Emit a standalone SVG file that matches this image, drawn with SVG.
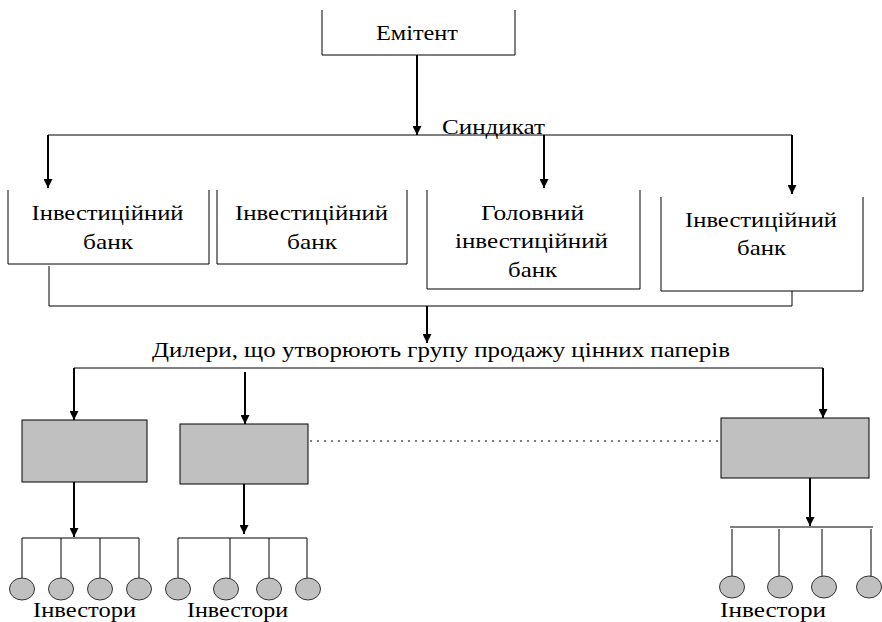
<svg xmlns="http://www.w3.org/2000/svg" width="882" height="622" viewBox="0 0 882 622">
<style>
text{font-family:'Liberation Serif','Times New Roman',serif;font-size:22px;fill:#000;text-anchor:middle}
.box{fill:#fff;stroke:#000;stroke-width:1}
.gbox{fill:#c0c0c0;stroke:#000;stroke-width:1}
.inv{fill:#c0c0c0;stroke:#333;stroke-width:1}
.ln{fill:none;stroke:#000;stroke-width:1}
.arr{fill:none;stroke:#000;stroke-width:2;marker-end:url(#ah)}
.dot{fill:none;stroke:#000;stroke-width:1.2;stroke-dasharray:2 5}
</style>
<defs>
<marker id="ah" viewBox="0 0 10 10" refX="10" refY="5" markerWidth="5" markerHeight="4.5" markerUnits="strokeWidth" orient="auto">
<path d="M0,0 L10,5 L0,10 z" fill="#000"/>
</marker>
</defs>
<rect width="882" height="622" fill="#fff"/>
<g id="connectors">
<line class="arr" x1="417" y1="55" x2="417" y2="135"/>
<line class="ln" x1="48" y1="135" x2="792" y2="135"/>
<line class="arr" x1="48" y1="135" x2="48" y2="188"/>
<line class="arr" x1="544" y1="135" x2="544" y2="188"/>
<line class="arr" x1="792" y1="135" x2="792" y2="194"/>
<polyline class="ln" points="49,266 49,306 792,306 792,291"/>
<line class="arr" x1="427" y1="306" x2="427" y2="343"/>
<line class="ln" x1="74" y1="368" x2="823" y2="368"/>
<line class="arr" x1="74" y1="368" x2="74" y2="420"/>
<line class="arr" x1="245" y1="372" x2="245" y2="424"/>
<line class="arr" x1="823" y1="368" x2="823" y2="418"/>
<line class="dot" x1="310" y1="441" x2="721" y2="441"/>
<line class="arr" x1="74" y1="482" x2="74" y2="537"/>
<path class="ln" d="M22,581 V538 H139 V581 M61,538 V579 M100,538 V579"/>
<line class="arr" x1="244" y1="484" x2="244" y2="534"/>
<path class="ln" d="M178,581 V538 H307 V579 M230,538 V579 M269,538 V579"/>
<line class="arr" x1="810" y1="478" x2="810" y2="526"/>
<path class="ln" d="M730,527 H873 M732,529 V577 M779,529 V577 M822,529 V576 M871,529 V577"/>
</g>
<g id="emitent">
<path class="box" d="M322,10 V55 H515 V10"/>
<text x="417" y="40" textLength="82" lengthAdjust="spacingAndGlyphs">Емітент</text>
</g>
<g id="syndicate-label">
<text x="493.5" y="134" textLength="103" lengthAdjust="spacingAndGlyphs">Синдикат</text>
</g>
<g id="bank1">
<path class="box" d="M8,190 V264 H209 V190"/>
<text x="107.5" y="220" textLength="152" lengthAdjust="spacingAndGlyphs">Інвестиційний</text>
<text x="108" y="249" textLength="50" lengthAdjust="spacingAndGlyphs">банк</text>
</g>
<g id="bank2">
<path class="box" d="M217,190 V264 H407 V190"/>
<text x="311.5" y="220" textLength="153" lengthAdjust="spacingAndGlyphs">Інвестиційний</text>
<text x="312" y="249" textLength="50" lengthAdjust="spacingAndGlyphs">банк</text>
</g>
<g id="lead-bank">
<path class="box" d="M427,190 V289 H640 V190"/>
<text x="532.5" y="220" textLength="103" lengthAdjust="spacingAndGlyphs">Головний</text>
<text x="531.5" y="248" textLength="153" lengthAdjust="spacingAndGlyphs">інвестиційний</text>
<text x="532.5" y="277" textLength="49" lengthAdjust="spacingAndGlyphs">банк</text>
</g>
<g id="bank4">
<path class="box" d="M661,197 V291 H863 V197"/>
<text x="761" y="227" textLength="152" lengthAdjust="spacingAndGlyphs">Інвестиційний</text>
<text x="761.5" y="255" textLength="49" lengthAdjust="spacingAndGlyphs">банк</text>
</g>
<g id="dealers-label">
<text x="441" y="357" textLength="578" lengthAdjust="spacingAndGlyphs">Дилери, що утворюють групу продажу цінних паперів</text>
</g>
<g id="dealer1"><rect class="gbox" x="22" y="420" width="125" height="62"/></g>
<g id="dealer2"><rect class="gbox" x="180" y="424" width="128" height="60"/></g>
<g id="dealer3"><rect class="gbox" x="721" y="418" width="148" height="60"/></g>
<g id="investors1">
<ellipse class="inv" cx="22" cy="589" rx="12.5" ry="11"/>
<ellipse class="inv" cx="61" cy="589" rx="12.5" ry="11"/>
<ellipse class="inv" cx="100" cy="589" rx="12.5" ry="11"/>
<ellipse class="inv" cx="139" cy="589" rx="12.5" ry="11"/>
<text x="84.5" y="617" textLength="103" lengthAdjust="spacingAndGlyphs">Інвестори</text>
</g>
<g id="investors2">
<ellipse class="inv" cx="178" cy="589" rx="12.5" ry="11"/>
<ellipse class="inv" cx="226" cy="589" rx="12.5" ry="11"/>
<ellipse class="inv" cx="269" cy="589" rx="12.5" ry="11"/>
<ellipse class="inv" cx="308" cy="589" rx="12.5" ry="11"/>
<text x="237.5" y="617" textLength="101" lengthAdjust="spacingAndGlyphs">Інвестори</text>
</g>
<g id="investors3">
<ellipse class="inv" cx="732" cy="587" rx="12.5" ry="11"/>
<ellipse class="inv" cx="780" cy="587" rx="12.5" ry="11"/>
<ellipse class="inv" cx="824" cy="587" rx="12.5" ry="11"/>
<ellipse class="inv" cx="869" cy="587" rx="12.5" ry="11"/>
<text x="773" y="617" textLength="106" lengthAdjust="spacingAndGlyphs">Інвестори</text>
</g>
</svg>
